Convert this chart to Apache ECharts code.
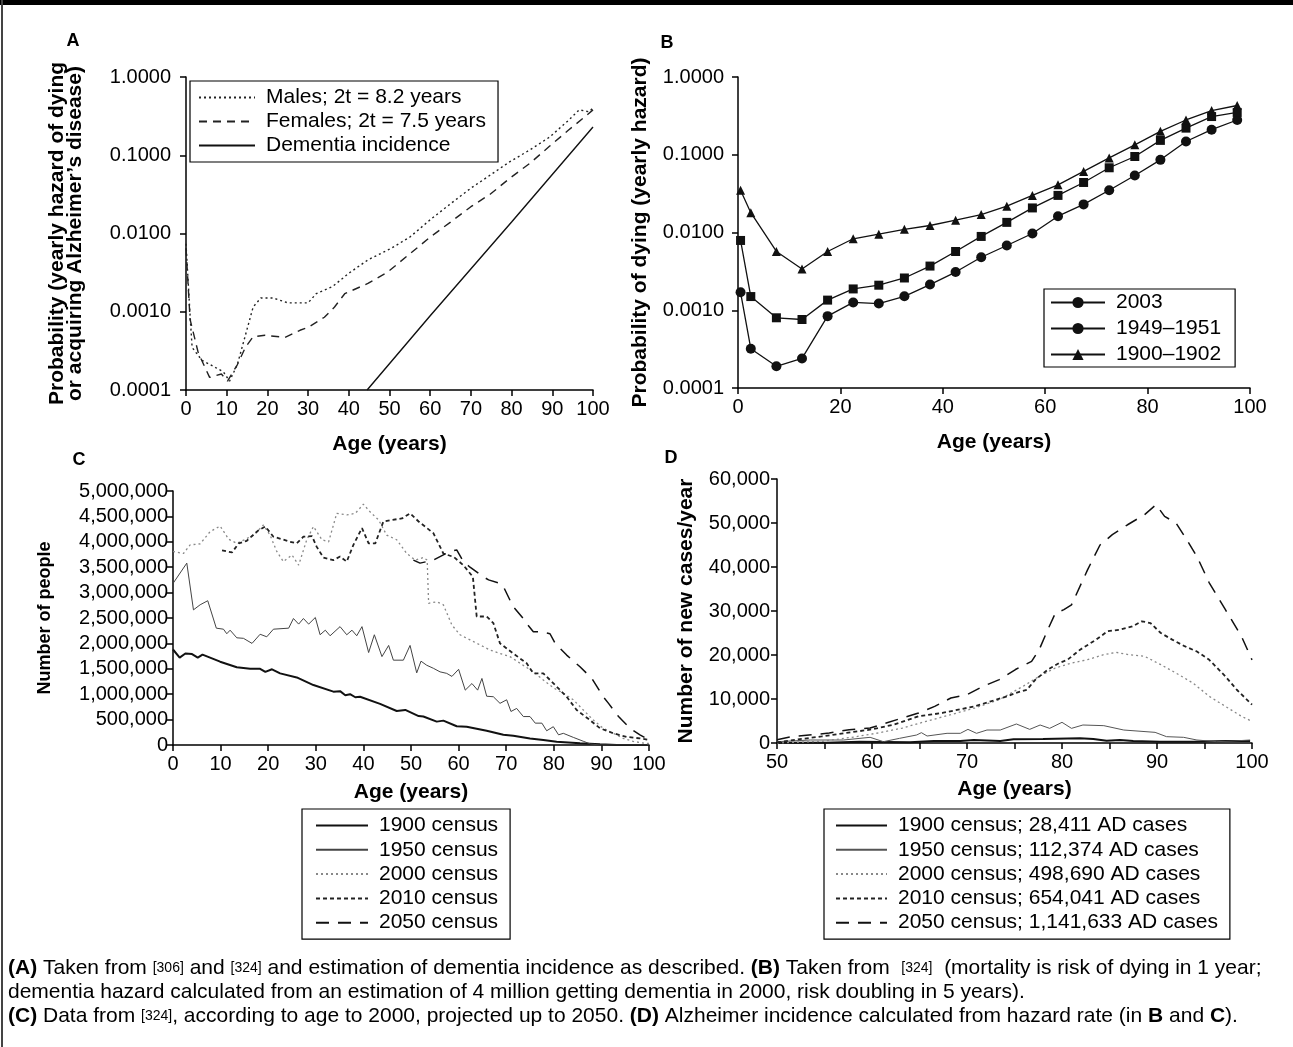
<!DOCTYPE html>
<html>
<head>
<meta charset="utf-8">
<script src="https://cdn.jsdelivr.net/npm/echarts@6/dist/echarts.min.js"></script>
<style>
  html, body { margin: 0; padding: 0; background: #fff; }
  #chart { width: 1293px; height: 1047px; }
</style>
</head>
<body>
<div id="chart"></div>
<script>
// ---- Panel A: yearly hazard, [age, probability] ----
var malesA = [[0,0.0074],[1,0.0009],[1.5,0.00035],[3.9,0.00024],[6.8,0.0002],[9.2,0.00017],[10.7,0.00013],[12.6,0.00021],[16.5,0.00115],[18.4,0.0015],[21.4,0.0015],[25,0.0013],[30,0.0013],[32,0.0017],[36,0.0021],[40,0.0031],[44.7,0.0046],[50.5,0.0065],[55,0.009],[60,0.015],[65,0.024],[70,0.038],[74.8,0.056],[79.6,0.083],[84.5,0.117],[89.3,0.17],[94,0.28],[96.6,0.38],[99,0.36],[100,0.40]];
var femalesA = [[0,0.0065],[1,0.0008],[3,0.0003],[5.8,0.000145],[8.7,0.00016],[10.2,0.00013],[12.6,0.00021],[14.6,0.00035],[16.5,0.00048],[19.4,0.0005],[24.3,0.00047],[28,0.00058],[30,0.00063],[34,0.00085],[36.5,0.00115],[39,0.0017],[44.7,0.0023],[49.5,0.0032],[55,0.0055],[60,0.009],[65,0.014],[70,0.022],[74.8,0.032],[79.6,0.051],[84.5,0.079],[89.3,0.13],[94,0.21],[98,0.31],[100,0.38]];
var dementiaA = [[44.5,0.0001],[60,0.00089],[80,0.014],[100,0.23]];

// ---- Panel B: probability of dying by age group ----
var agesB = [0.5,2.5,7.5,12.5,17.5,22.5,27.5,32.5,37.5,42.5,47.5,52.5,57.5,62.5,67.5,72.5,77.5,82.5,87.5,92.5,97.5];
var y2003 = [0.0017,0.00032,0.00019,0.00024,0.00084,0.00126,0.00122,0.00151,0.00214,0.0031,0.0048,0.0068,0.0097,0.0162,0.023,0.035,0.054,0.086,0.148,0.21,0.28];
var y1949 = [0.0079,0.0015,0.0008,0.00076,0.00135,0.00188,0.0021,0.0026,0.0037,0.0057,0.0089,0.0135,0.0207,0.030,0.044,0.068,0.095,0.153,0.22,0.31,0.35];
var y1900 = [0.035,0.018,0.0057,0.0034,0.0057,0.0083,0.0095,0.011,0.0123,0.0144,0.017,0.0218,0.030,0.041,0.061,0.091,0.134,0.20,0.28,0.37,0.43];

// ---- Panel C: number of people by age ----
var census1900 = [[0,1880000],[1.4,1720000],[2.6,1800000],[4,1790000],[5.2,1720000],[6.2,1780000],[9.9,1640000],[13.4,1530000],[16.2,1500000],[18.3,1500000],[19.4,1440000],[20.8,1490000],[22.5,1410000],[26,1330000],[29.5,1180000],[33.7,1050000],[35.1,1060000],[36.2,980000],[37.2,1000000],[38.3,940000],[39.3,950000],[43.5,810000],[47,670000],[48.8,690000],[51.6,570000],[52.6,560000],[55.4,460000],[56.8,480000],[59.6,370000],[61.7,360000],[65.9,280000],[69.4,200000],[71.5,180000],[75,130000],[77.8,100000],[80.6,66000],[85.5,33000],[89.7,13000],[93.2,0],[100,0]];
var census1950 = [[0,3180000],[2.9,3580000],[4.3,2660000],[5.7,2760000],[7.3,2840000],[9.1,2300000],[10.6,2280000],[11.3,2190000],[12,2260000],[13.4,2110000],[14.8,2100000],[16.6,2000000],[18.3,2180000],[19.7,2130000],[21.1,2280000],[24.3,2300000],[25.3,2490000],[26.4,2380000],[27.4,2490000],[28.5,2380000],[29.9,2510000],[30.9,2170000],[32,2260000],[33,2150000],[35.1,2330000],[36.5,2170000],[37.6,2260000],[38.6,2150000],[39.7,2330000],[41.1,1820000],[42.3,2170000],[43.9,1740000],[45.3,1960000],[46.3,1670000],[48.4,1670000],[49.8,1960000],[51.2,1420000],[52.1,1650000],[53.3,1570000],[54.7,1510000],[56.1,1440000],[57.5,1410000],[58.6,1350000],[60,1490000],[61.4,1080000],[62.8,1210000],[64,1080000],[64.9,1310000],[65.9,960000],[67.3,950000],[68.7,820000],[70.1,890000],[71,660000],[72.2,720000],[73.6,560000],[75,560000],[76.1,430000],[77.5,430000],[78.5,280000],[79.9,360000],[81,200000],[82,230000],[84.1,150000],[86.3,70000],[87.7,20000],[89.7,0],[100,0]];
var census2000 = [[0,3810000],[2.2,3770000],[3.6,3940000],[5.7,3960000],[7.8,4200000],[9.9,4310000],[11.7,4050000],[13.4,3970000],[15.2,4050000],[16.9,4130000],[19,4330000],[20.4,4130000],[21.8,3810000],[23.2,3610000],[25,3740000],[26.4,3540000],[28.1,4040000],[29.5,4300000],[31.3,4040000],[32.7,4000000],[34.4,4560000],[36.5,4530000],[38.3,4560000],[40,4740000],[41.4,4590000],[43.2,4430000],[44.9,4130000],[47,4040000],[49.1,3770000],[50.9,3640000],[52.6,3690000],[53.4,3640000],[53.7,2790000],[55.4,2820000],[56.8,2760000],[58.6,2360000],[60.3,2170000],[62.4,2070000],[64.5,1970000],[66.6,1870000],[68.7,1800000],[70.8,1740000],[72.9,1610000],[75.7,1440000],[77.8,1280000],[80,1120000],[82,1020000],[84.1,890000],[86.2,690000],[88.3,490000],[90.4,330000],[92.5,230000],[94.6,130000],[96.7,70000],[99.5,30000],[100,30000]];
var census2010 = [[10.3,3830000],[12.4,3790000],[13.8,3970000],[15.5,4020000],[18,4230000],[19.4,4300000],[21.1,4100000],[22.9,4050000],[24.6,4000000],[26,3970000],[27.4,4100000],[29.2,4110000],[30.2,3900000],[31.6,3690000],[33.7,3640000],[35.1,3710000],[36.5,3610000],[37.9,3940000],[39.7,4270000],[41.1,3970000],[42.5,3970000],[44.2,4400000],[46,4430000],[48.1,4460000],[49.8,4560000],[51.6,4400000],[54.7,4170000],[56.8,3770000],[59,3700000],[61,3540000],[63,3310000],[63.8,2530000],[65.9,2530000],[67.3,2400000],[68.7,2000000],[71.5,1800000],[74.3,1610000],[75.7,1410000],[77.8,1410000],[80.6,1150000],[82.7,950000],[84.8,690000],[87.6,490000],[89.7,330000],[92.5,230000],[95.3,160000],[98.1,130000],[100,100000]];
var census2050 = [[50.5,3640000],[51.9,3580000],[54.7,3640000],[58.2,3810000],[59.6,3840000],[61,3610000],[62.4,3500000],[65.2,3310000],[66.3,3250000],[68.7,3180000],[69.4,3120000],[70.8,2850000],[71.5,2720000],[73.6,2490000],[74.3,2390000],[75.7,2230000],[77.1,2230000],[79.2,2190000],[80.3,2000000],[82.7,1770000],[85.5,1540000],[88,1310000],[90.4,950000],[91.5,820000],[93.6,560000],[96,330000],[98.1,200000],[100,100000]];

// ---- Panel D: new AD cases per year ----
var cases1900 = [[50,80],[55.2,80],[58.7,300],[64,150],[66.5,450],[69.3,450],[70.7,680],[73.5,450],[74.9,830],[78,900],[81.9,1060],[83.3,900],[84.7,530],[86.1,680],[87.5,450],[90.3,300],[93.8,300],[97.3,450],[99.8,450]];
var cases1950 = [[50,300],[53.5,680],[57,680],[59.8,1290],[61.2,300],[62.9,1060],[64.7,1820],[65.2,2350],[65.8,1590],[67.9,2200],[69.3,2200],[70.1,3100],[71,2200],[72.1,2950],[73.5,2950],[75.2,4320],[76.6,3100],[77.7,4090],[78.7,3330],[80,4700],[81,3330],[82.2,4090],[84.4,3940],[86.5,2950],[89.8,2420],[91,1440],[92.8,1290],[94.2,680],[96.3,300],[98,450],[99.8,680]];
var cases2000 = [[50,0],[54.7,380],[58.1,1360],[60.6,2270],[63.2,3400],[65.7,4920],[68.3,6440],[70.8,7950],[73.4,9850],[75.9,12880],[77.6,15150],[79.3,17050],[81,18180],[82.7,18940],[84.4,20080],[85.7,20600],[87,20080],[88.7,19700],[90.4,17800],[92,15900],[93.8,13600],[95.5,10600],[97.2,8330],[98.9,6060],[100,4920]];
var cases2010 = [[50,150],[52,760],[54.7,1500],[57.2,2270],[59.8,3030],[62.3,4170],[64.9,6060],[67.4,6820],[69.1,7580],[70.8,8330],[72.5,9470],[74.2,10600],[75.1,11360],[76.3,12100],[77.2,14400],[78.5,16670],[79.7,18180],[80.6,18940],[81.9,21200],[83.6,23500],[84.8,25400],[86.1,25760],[87.4,26500],[88.4,27650],[89.3,27270],[90.4,25000],[91.6,23500],[92.9,22000],[94.2,20800],[95.5,18900],[97.2,15150],[98.4,12100],[100,8700]];
var cases2050 = [[50,760],[51.7,1500],[53.8,1900],[55.5,2270],[57.6,3030],[59.8,3400],[61.5,4550],[63.2,5680],[64.9,6820],[66.6,8330],[68.3,10230],[70,11000],[71.7,12900],[73.4,14400],[75.1,16700],[76.8,18560],[77.6,21200],[78.5,25760],[79.3,29500],[80.2,30300],[81,31400],[82.7,39400],[84,45000],[85.3,47350],[86.9,49600],[88.7,51900],[89.9,54170],[90.8,51500],[92,50000],[92.9,47000],[94.2,42400],[95.5,36400],[97.2,30300],[98.9,24200],[100,18900]];

var namesA = ['Males; 2t = 8.2 years', 'Females; 2t = 7.5 years', 'Dementia incidence'];
var namesB = ['2003', '1949\u20131951', '1900\u20131902'];
var namesC = ['1900 census', '1950 census', '2000 census', '2010 census', '2050 census'];
var namesD = ['1900 census; 28,411 AD cases', '1950 census; 112,374 AD cases', '2000 census; 498,690 AD cases',
              '2010 census; 654,041 AD cases', '2050 census; 1,141,633 AD cases'];

var FONT = 'Liberation Sans';
var chart = echarts.init(document.getElementById('chart'));

function xAxisBase(idx, min, max, interval, gap) {
    return {
        type: 'value', gridIndex: idx, min: min, max: max, interval: interval,
        name: 'Age (years)', nameLocation: 'middle', nameGap: gap,
        nameTextStyle: { color: '#000', fontSize: 21, fontWeight: 'bold', fontFamily: FONT },
        axisLine: { show: true, lineStyle: { color: '#000', width: 1.5 } },
        axisTick: { show: true, length: 6, lineStyle: { color: '#000', width: 1.5 } },
        axisLabel: { color: '#000', fontSize: 20, margin: 9, fontFamily: FONT },
        splitLine: { show: false }
    };
}
function yAxisBase(idx, name, gap, margin, nameSize) {
    return {
        gridIndex: idx, name: name, nameLocation: 'middle', nameGap: gap,
        nameTextStyle: { color: '#000', fontSize: nameSize, fontWeight: 'bold', fontFamily: FONT, lineHeight: 18 },
        axisLine: { show: true, lineStyle: { color: '#000', width: 1.5 } },
        axisTick: { show: true, length: 6, lineStyle: { color: '#000', width: 1.5 } },
        axisLabel: { color: '#000', fontSize: 20, margin: margin, fontFamily: FONT },
        splitLine: { show: false }, minorSplitLine: { show: false }
    };
}
function lineSeries(name, xi, data, color, width, dash) {
    return {
        name: name, type: 'line', xAxisIndex: xi, yAxisIndex: xi, data: data,
        showSymbol: false, symbol: 'none', silent: true,
        lineStyle: { color: color, width: width, type: dash },
        itemStyle: { color: color }
    };
}
function legendBase(names, left, top, pad, iw, gap, hideSymbol) {
    var lg = {
        data: names, orient: 'vertical', left: left, top: top, padding: pad,
        itemWidth: iw, itemHeight: 14, itemGap: gap,
        borderColor: '#000', borderWidth: 1.2, backgroundColor: '#fff',
        textStyle: { color: '#000', fontSize: 21, fontFamily: FONT, lineHeight: 20, padding: [0, 0, 0, 6] },
        selectedMode: false, inactiveColor: '#000'
    };
    if (hideSymbol) lg.itemStyle = { opacity: 0 };
    return lg;
}

var fmtThousands = function (v) { return v.toLocaleString('en-US'); };
var fmtLog = function (v) { return (+v).toFixed(4); };

var yA = yAxisBase(0, 'Probability (yearly hazard of dying\nor acquiring Alzheimer\u2019s disease)', 102, 15, 21);
yA.type = 'log'; yA.min = 0.0001; yA.max = 1; yA.logBase = 10;
yA.axisLabel.formatter = fmtLog;
var yB = yAxisBase(1, 'Probability of dying (yearly hazard)', 89, 14, 21);
yB.type = 'log'; yB.min = 0.0001; yB.max = 1; yB.logBase = 10;
yB.axisLabel.formatter = fmtLog;
var yC = yAxisBase(2, 'Number of people', 119, 5, 18);
yC.type = 'value'; yC.min = 0; yC.max = 5000000; yC.interval = 500000;
yC.axisLabel.formatter = fmtThousands;
var yD = yAxisBase(3, 'Number of new cases/year', 82, 7, 21);
yD.type = 'value'; yD.min = 0; yD.max = 60000; yD.interval = 10000;
yD.axisLabel.formatter = fmtThousands;

var xD = xAxisBase(3, 50, 100, 5, 36);
xD.axisLabel.formatter = function (v) { return v % 10 === 0 ? String(v) : ''; };

function pairsB(ages, vals) { return ages.map(function (a, i) { return [a, vals[i]]; }); }

var caption = [
    '{b|(A)} Taken from {s|[306]} and {s|[324]} and estimation of dementia incidence as described. {b|(B)} Taken from  {s|[324]}  (mortality is risk of dying in 1 year;',
    'dementia hazard calculated from an estimation of 4 million getting dementia in 2000, risk doubling in 5 years).',
    '{b|(C)} Data from {s|[324]}, according to age to 2000, projected up to 2050. {b|(D)} Alzheimer incidence calculated from hazard rate (in {b|B} and {b|C}).'
];
var capRich = {
    b: { fontWeight: 'bold', fontSize: 21, fontFamily: FONT, fill: '#000' },
    s: { fontSize: 14, fontFamily: FONT, fill: '#000' }
};

var option = {
    animation: false,
    backgroundColor: '#fff',
    textStyle: { fontFamily: FONT, color: '#000' },
    grid: [
        { left: 186, top: 77, width: 407, height: 313, outerBoundsMode: 'none' },
        { left: 738, top: 77, width: 512, height: 311, outerBoundsMode: 'none' },
        { left: 173, top: 491, width: 476, height: 254, outerBoundsMode: 'none' },
        { left: 777, top: 479, width: 475, height: 264, outerBoundsMode: 'none' }
    ],
    xAxis: [xAxisBase(0, 0, 100, 10, 44), xAxisBase(1, 0, 100, 20, 44), xAxisBase(2, 0, 100, 10, 37), xD],
    yAxis: [yA, yB, yC, yD],
    legend: [
        legendBase(namesA, 190, 81, [6, 12, 6, 8], 56, 3, true),
        legendBase(namesB, 1044, 289, [3, 14, 2, 6], 54, 5, false),
        legendBase(namesC, 302, 809, [6, 12, 6, 13], 52, 3.3, true),
        legendBase(namesD, 824, 809, [6, 12, 6, 11], 51, 3.3, true)
    ],
    series: [
        lineSeries(namesA[0], 0, malesA, '#222', 1.4, [2, 3]),
        lineSeries(namesA[1], 0, femalesA, '#222', 1.4, [8, 6]),
        lineSeries(namesA[2], 0, dementiaA, '#111', 1.4, 'solid'),

        { name: namesB[0], type: 'line', xAxisIndex: 1, yAxisIndex: 1, data: pairsB(agesB, y2003),
          symbol: 'circle', symbolSize: 10, lineStyle: { color: '#111', width: 1.3 }, itemStyle: { color: '#111' } },
        { name: namesB[1], type: 'line', xAxisIndex: 1, yAxisIndex: 1,
          data: pairsB(agesB, y1949).map(function (p) { return { value: p, symbol: 'rect' }; }),
          symbol: 'circle', symbolSize: 9, lineStyle: { color: '#111', width: 1.3 }, itemStyle: { color: '#111' } },
        { name: namesB[2], type: 'line', xAxisIndex: 1, yAxisIndex: 1, data: pairsB(agesB, y1900),
          symbol: 'triangle', symbolSize: 9, lineStyle: { color: '#111', width: 1.3 }, itemStyle: { color: '#111' } },

        lineSeries(namesC[0], 2, census1900, '#111', 2, 'solid'),
        lineSeries(namesC[1], 2, census1950, '#444', 1, 'solid'),
        lineSeries(namesC[2], 2, census2000, '#888', 1.3, [2, 3]),
        lineSeries(namesC[3], 2, census2010, '#222', 1.8, [4, 3]),
        lineSeries(namesC[4], 2, census2050, '#111', 1.5, [13, 9]),

        lineSeries(namesD[0], 3, cases1900, '#111', 2, 'solid'),
        lineSeries(namesD[1], 3, cases1950, '#555', 1, 'solid'),
        lineSeries(namesD[2], 3, cases2000, '#888', 1.3, [2, 3]),
        lineSeries(namesD[3], 3, cases2010, '#222', 1.8, [4, 3]),
        lineSeries(namesD[4], 3, cases2050, '#111', 1.5, [13, 9])
    ],
    graphic: [
        { type: 'rect', shape: { x: 0, y: 0, width: 1293, height: 5 }, style: { fill: '#000' } },
        { type: 'rect', shape: { x: 1, y: 0, width: 2, height: 1047 }, style: { fill: '#444' } },
        { type: 'text', x: 73, y: 41, style: { text: 'A', font: 'bold 18px ' + FONT, fill: '#000', align: 'center', verticalAlign: 'middle' } },
        { type: 'text', x: 667, y: 43, style: { text: 'B', font: 'bold 18px ' + FONT, fill: '#000', align: 'center', verticalAlign: 'middle' } },
        { type: 'text', x: 79, y: 460, style: { text: 'C', font: 'bold 18px ' + FONT, fill: '#000', align: 'center', verticalAlign: 'middle' } },
        { type: 'text', x: 671, y: 458, style: { text: 'D', font: 'bold 18px ' + FONT, fill: '#000', align: 'center', verticalAlign: 'middle' } },
        { type: 'text', x: 8, y: 968, style: { text: caption[0], font: '21px ' + FONT, fill: '#000', verticalAlign: 'middle', rich: capRich } },
        { type: 'text', x: 8, y: 992, style: { text: caption[1], font: '21px ' + FONT, fill: '#000', verticalAlign: 'middle', rich: capRich } },
        { type: 'text', x: 8, y: 1016, style: { text: caption[2], font: '21px ' + FONT, fill: '#000', verticalAlign: 'middle', rich: capRich } }
    ]
};
chart.setOption(option);
</script>
</body>
</html>
